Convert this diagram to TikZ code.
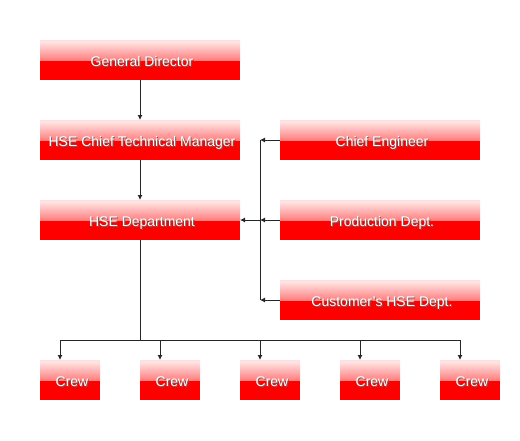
\documentclass[tikz,border=0pt]{standalone}
\usepackage{fontspec}
\setmainfont{Liberation Sans}
\usetikzlibrary{arrows.meta}
\newcommand\shtext[1]{\kern4pt\makebox[0pt][l]{\kern1pt\raisebox{-1pt}{\color{black!60}#1}}{\color{white}#1}}
\tikzset{
  orgbox/.style={inner sep=0pt, outer sep=0pt, minimum height=40pt,
    text height=12pt, text depth=0pt,
    font=\fontsize{14}{16}\selectfont,
    path picture={
      \fill[red] (path picture bounding box.west) rectangle (path picture bounding box.south east);
      \shade[top color=red!7, bottom color=red!50] (path picture bounding box.north west) rectangle (path picture bounding box.east);
      \fill[red!12] (path picture bounding box.north west) rectangle ([yshift=-2pt]path picture bounding box.north east);
    }},
  widebox/.style={orgbox, minimum width=200pt},
  crewbox/.style={orgbox, minimum width=60pt},
  conn/.style={draw=black!85, line width=1pt},
  arr/.style={conn, -{Latex[length=5pt,width=5pt]}}
}
\begin{document}
\begin{tikzpicture}[x=1pt,y=-1pt]
\path[use as bounding box, fill=white] (0,0) rectangle (520,440);
\node[widebox] (gd)  at (140,60)  {\shtext{General Director}};
\node[widebox] (ctm) at (140,140) {\shtext{HSE Chief Technical Manager}};
\node[widebox] (hse) at (140,220) {\shtext{HSE Department}};
\node[widebox] (ce)  at (380,140) {\shtext{Chief Engineer}};
\node[widebox] (pd)  at (380,220) {\shtext{Production Dept.}};
\node[widebox] (cu)  at (380,300) {\shtext{Customer's HSE Dept.}};
\node[crewbox] (c1) at (70,380)  {\shtext{Crew}};
\node[crewbox] (c2) at (170,380) {\shtext{Crew}};
\node[crewbox] (c3) at (270,380) {\shtext{Crew}};
\node[crewbox] (c4) at (370,380) {\shtext{Crew}};
\node[crewbox] (c5) at (470,380) {\shtext{Crew}};
\coordinate (vt) at (260,140);
\coordinate (vm) at (260,220);
\coordinate (vb) at (260,300);
\coordinate (hj) at (140,340);
\coordinate (b1) at (60,340);
\coordinate (b2) at (160,340);
\coordinate (b3) at (260,340);
\coordinate (b4) at (360,340);
\coordinate (b5) at (460,340);
\draw[arr] (gd.south) -- (ctm.north);
\draw[arr] (ctm.south) -- (hse.north);
\draw[conn] (vt) -- (vb);
\draw[arr] (ce.west) -- (vt);
\draw[arr] (pd.west) -- (vm);
\draw[arr] (cu.west) -- (vb);
\draw[arr] (vm) -- (hse.east);
\draw[conn] (hse.south) -- (hj);
\draw[conn] (b1) -- (b5);
\foreach \i in {1,...,5} {\draw[arr] (b\i) -- (b\i |- c\i.north);}
\end{tikzpicture}
\end{document}
